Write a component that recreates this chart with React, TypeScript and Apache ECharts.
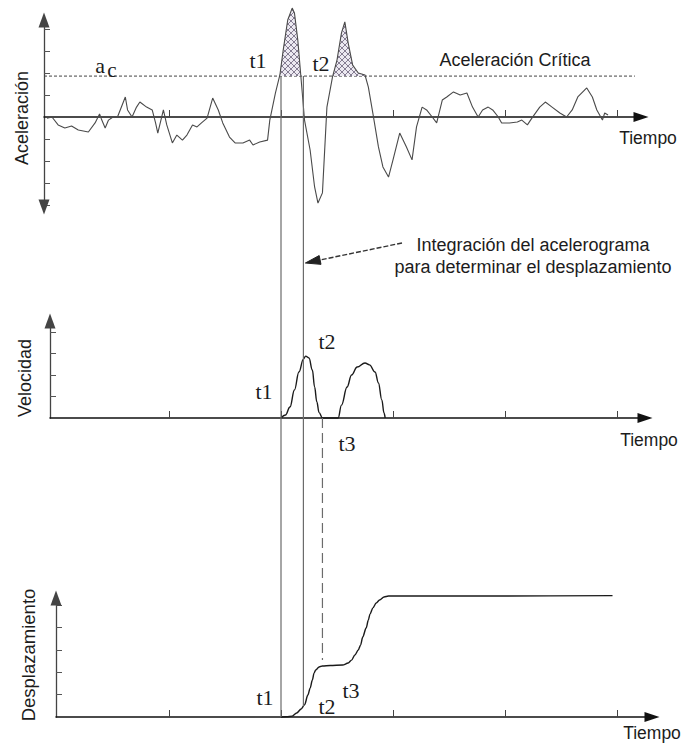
import React, { useEffect, useRef } from "react";
import * as echarts from "echarts";

// ---------- data (time in arbitrary units, values in tick units) ----------
const accelerogram: [number, number][] = [
  [-0.9, -0.05], [-0.45, 0], [0.1, -0.36], [0.7, -0.5], [1.3, -0.41], [1.9, -0.59], [2.8, -0.68],
  [3.4, -0.27], [3.8, 0.14], [4.0, -0.14], [4.3, -0.5], [4.6, -0.14], [5.0, 0], [5.4, 0],
  [6.1, 0.91], [6.3, 0.32], [6.7, 0], [7.1, 0.45], [7.4, 0.68], [8.0, 0.45], [8.5, 0.32],
  [8.8, -0.27], [9.0, -0.73], [9.5, 0.32], [9.8, -0.36], [10.3, -1.18], [10.7, -0.82],
  [11.2, -1.05], [11.6, -0.82], [12.1, -0.36], [12.5, -0.45], [12.9, -0.27], [13.4, -0.05],
  [13.9, 0.86], [14.4, 0.32], [14.8, -0.27], [15.4, -0.91], [15.9, -1.18], [16.6, -1.18],
  [17.2, -1.05], [17.5, -1.27], [18.1, -1.14], [18.8, -1.05], [19.0, -0.14], [19.5, 1.09],
  [19.9, 1.91], [20.2, 3.05], [20.6, 4.41], [21.0, 4.95], [21.2, 4.73], [21.5, 3.5],
  [21.9, 1.09], [22.1, -0.14], [22.6, -1.5], [23.0, -3.18], [23.3, -3.91], [23.7, -3.45],
  [24.1, 0.45], [24.6, 1.82], [25.0, 2.59], [25.4, 3.82], [25.7, 4.32], [26.0, 3.36],
  [26.4, 2.36], [26.9, 2.0], [27.5, 1.91], [27.8, 1.36], [28.2, 0.18], [28.7, -1.36],
  [29.1, -2.27], [29.6, -2.73], [30.0, -1.95], [30.6, -0.73], [31.2, -1.36], [31.7, -1.95],
  [32.1, -0.45], [32.6, 0.45], [33.0, 0.32], [33.5, 0], [33.9, -0.27], [34.4, 0.77],
  [34.8, 0.91], [35.4, 1.14], [36.0, 1.0], [36.6, 1.09], [37.1, 0.45], [37.6, 0], [38.0, 0.32],
  [38.5, 0.45], [38.9, 0.32], [39.4, 0], [39.7, -0.27], [40.4, -0.27], [41.1, -0.23],
  [41.5, -0.14], [42.0, -0.36], [42.4, -0.05], [43.1, 0.45], [43.6, 0.68], [44.2, 0.45],
  [44.9, 0.18], [45.5, 0], [46.0, 0.32], [46.5, 0.91], [47.3, 1.32], [47.8, 0.91], [48.2, 0.32],
  [48.7, -0.14], [48.9, 0.18], [49.2, 0.09],
];
const criticalAcc = 1.86;
const criticalLineEnd = 51.6;

const velocity: [number, number][] = [
  [20.0, 0], [20.4, 0.14], [20.8, 0.51], [21.2, 1.3], [21.6, 2.14], [22.0, 2.74], [22.2, 2.88],
  [22.5, 2.79], [22.8, 2.23], [23.0, 1.44], [23.2, 0.75], [23.4, 0.25], [23.7, 0],
  [25.1, 0], [25.4, 0.6], [25.9, 1.44], [26.3, 2.0], [26.8, 2.37], [27.5, 2.56], [27.9, 2.47],
  [28.4, 2.14], [28.7, 1.63], [29.0, 0.84], [29.2, 0.23], [29.3, 0],
];

const displacement: [number, number][] = [
  [20.0, 0], [20.5, 0.01], [21.0, 0.04], [21.4, 0.18], [21.8, 0.36], [22.1, 0.54], [22.4, 0.98],
  [22.6, 1.29], [22.8, 1.65], [22.95, 1.96], [23.1, 2.1], [23.4, 2.23], [23.7, 2.28],
  [24.4, 2.3], [25.5, 2.32], [26.0, 2.41], [26.3, 2.54], [26.6, 2.77], [26.9, 2.99],
  [27.1, 3.21], [27.3, 3.57], [27.6, 3.97], [27.8, 4.33], [27.95, 4.6], [28.2, 4.87],
  [28.5, 5.09], [28.8, 5.22], [29.2, 5.36], [29.6, 5.4], [39.6, 5.4], [49.6, 5.42],
];

const t1 = 20.0;
const t2 = 22.0;
const t3 = 23.7;

const xTicks = [10, 20, 30, 40, 50];
const accTicks = [-4, -3, -2, -1, 1, 2, 3, 4];
const velTicks = [1, 2, 3, 4];
const dispTicks = [1, 2, 3, 4, 5];

// ---------- layout ----------
const PX0 = 57; // pixel of time 0
const PXU = 11.2; // pixels per time unit
const xSpan = (left: number, end: number) => ({
  left,
  width: end - left,
  min: (left - PX0) / PXU,
  max: (end - PX0) / PXU,
});
const accX = xSpan(44, 641);
const velX = xSpan(50, 645);
const dispX = xSpan(56, 652);
const accY = { zero: 117, unit: 22, top: 20, bottom: 207 };
const velY = { zero: 418, unit: 21.5, top: 321 };
const dispY = { zero: 717, unit: 22.4, top: 598 };

const SANS = "'Liberation Sans', Arial, Helvetica, sans-serif";
const SERIF = "'Liberation Serif', 'DejaVu Serif', 'Times New Roman', serif";
const INK = "#1c1c1c";

function interp(data: [number, number][], t: number) {
  for (let i = 1; i < data.length; i++) {
    const [ta, va] = data[i - 1];
    const [tb, vb] = data[i];
    if (t >= ta && t <= tb) return va + ((t - ta) / (tb - ta)) * (vb - va);
  }
  return t < data[0][0] ? data[0][1] : data[data.length - 1][1];
}

function exceedances(data: [number, number][], level: number) {
  const segs: [number, number][][] = [];
  let cur: [number, number][] | null = null;
  for (let i = 0; i < data.length; i++) {
    const [t, a] = data[i];
    if (a >= level) {
      if (!cur) {
        cur = [];
        if (i > 0) {
          const [t0, a0] = data[i - 1];
          cur.push([t0 + ((level - a0) / (a - a0)) * (t - t0), level]);
        }
      }
      cur.push([t, a]);
    } else if (cur) {
      const [t0, a0] = data[i - 1];
      cur.push([t0 + ((a0 - level) / (a0 - a)) * (t - t0), level]);
      segs.push(cur);
      cur = null;
    }
  }
  if (cur) segs.push(cur);
  return segs;
}

function hatchPattern() {
  const n = 6;
  const c = document.createElement("canvas");
  c.width = n;
  c.height = n;
  const g = c.getContext("2d")!;
  g.fillStyle = "#ece9f1";
  g.fillRect(0, 0, n, n);
  g.fillStyle = "#857d92";
  for (let i = 0; i < n; i++) {
    g.fillRect(i, i, 1, 1);
    g.fillRect(n - 1 - i, i, 1, 1);
  }
  return c;
}

export default function App() {
  const ref = useRef<HTMLDivElement>(null);

  useEffect(() => {
    const el = ref.current;
    if (!el) return;
    const chart = echarts.init(el, null, { renderer: "svg" });

    const xAxis = [accX, velX, dispX].map((s, i) => ({
      type: "value",
      gridIndex: i,
      min: s.min,
      max: s.max,
      axisLine: {
        show: true,
        onZero: true,
        symbol: ["none", "triangle"],
        symbolSize: [10, 15],
        lineStyle: { color: "#111", width: 1.5 },
      },
      axisTick: {
        show: true,
        inside: true,
        length: 7,
        customValues: xTicks,
        lineStyle: { color: "#444", width: 1 },
      },
      axisLabel: { show: false },
      splitLine: { show: false },
    }));

    const yAxisBase = (gridIndex: number, min: number, max: number, ticks: number[], both: boolean) => ({
      type: "value",
      gridIndex,
      min,
      max,
      axisLine: {
        show: true,
        onZero: false,
        symbol: both ? ["triangle", "triangle"] : ["none", "triangle"],
        symbolSize: [11, 15],
        lineStyle: { color: "#444", width: 1.3 },
      },
      axisTick: {
        show: true,
        inside: true,
        length: 6,
        customValues: ticks,
        lineStyle: { color: "#555", width: 1 },
      },
      axisLabel: { show: false },
      splitLine: { show: false },
    });

    const yAxis = [
      yAxisBase(
        0,
        -(accY.bottom - accY.zero) / accY.unit,
        (accY.zero - accY.top) / accY.unit,
        accTicks,
        true
      ),
      yAxisBase(1, 0, (velY.zero - velY.top) / velY.unit, velTicks, false),
      yAxisBase(2, 0, (dispY.zero - dispY.top) / dispY.unit, dispTicks, false),
    ];

    const grid = [
      { left: accX.left, width: accX.width, top: accY.top, height: accY.bottom - accY.top },
      { left: velX.left, width: velX.width, top: velY.top, height: velY.zero - velY.top },
      { left: dispX.left, width: dispX.width, top: dispY.top, height: dispY.zero - dispY.top },
    ];

    let pattern: any = "#d6d0de";
    try {
      pattern = { image: hatchPattern(), repeat: "repeat" };
    } catch (e) {
      pattern = "#d6d0de";
    }

    const shaded = exceedances(accelerogram, criticalAcc).map((seg) => ({
      type: "line",
      xAxisIndex: 0,
      yAxisIndex: 0,
      data: seg,
      showSymbol: false,
      silent: true,
      clip: false,
      z: 2,
      lineStyle: { width: 0, opacity: 0 },
      areaStyle: { color: pattern, opacity: 1, origin: criticalAcc },
    }));

    const option: any = {
      animation: false,
      backgroundColor: "#fff",
      grid,
      xAxis,
      yAxis,
      series: [
        {
          type: "line",
          xAxisIndex: 0,
          yAxisIndex: 0,
          data: [
            [accX.min, criticalAcc],
            [criticalLineEnd, criticalAcc],
          ],
          showSymbol: false,
          silent: true,
          z: 1,
          lineStyle: { color: "#444", width: 1, type: [3, 2] },
        },
        ...shaded,
        {
          type: "line",
          xAxisIndex: 0,
          yAxisIndex: 0,
          data: accelerogram,
          showSymbol: false,
          silent: true,
          clip: false,
          z: 3,
          lineStyle: { color: "#4a4a4a", width: 1.1 },
        },
        {
          type: "line",
          xAxisIndex: 1,
          yAxisIndex: 1,
          data: velocity,
          showSymbol: false,
          silent: true,
          smooth: 0.4,
          smoothMonotone: "x",
          clip: false,
          z: 3,
          lineStyle: { color: "#1a1a1a", width: 1.4 },
        },
        {
          type: "line",
          xAxisIndex: 2,
          yAxisIndex: 2,
          data: displacement,
          showSymbol: false,
          silent: true,
          smooth: 0.3,
          smoothMonotone: "x",
          clip: false,
          z: 3,
          lineStyle: { color: "#1a1a1a", width: 1.4 },
        },
      ],
    };

    chart.setOption(option);

    const X = (t: number) => chart.convertToPixel({ xAxisIndex: 0 } as any, t) as unknown as number;
    const YA = (v: number) => chart.convertToPixel({ yAxisIndex: 0 } as any, v) as unknown as number;
    const YV = (v: number) => chart.convertToPixel({ yAxisIndex: 1 } as any, v) as unknown as number;
    const YD = (v: number) => chart.convertToPixel({ yAxisIndex: 2 } as any, v) as unknown as number;

    const vline = (t: number, ya: number, yb: number, dash?: number[]) => ({
      type: "line",
      silent: true,
      z: 5,
      shape: { x1: X(t), y1: ya, x2: X(t), y2: yb },
      style: { stroke: "#6b6b6b", lineWidth: 1.2, lineDash: dash || null },
    });

    const text = (
      str: string,
      x: number,
      y: number,
      size: number,
      family: string,
      rotation = 0
    ) => ({
      type: "text",
      x,
      y,
      rotation,
      silent: true,
      z: 10,
      style: {
        text: str,
        fontSize: size,
        fontFamily: family,
        fill: INK,
        align: "center",
        verticalAlign: "middle",
        textAlign: "center",
        textVerticalAlign: "middle",
      },
    });

    // annotation arrow
    const tip = [X(t2) + 2, 263];
    const tail = [402, 243];
    const dx = tail[0] - tip[0];
    const dy = tail[1] - tip[1];
    const len = Math.hypot(dx, dy);
    const ux = dx / len;
    const uy = dy / len;
    const headL = 15;
    const headW = 4.5;
    const bx = tip[0] + ux * headL;
    const by = tip[1] + uy * headL;
    const head = [
      [tip[0], tip[1]],
      [bx - uy * headW, by + ux * headW],
      [bx + uy * headW, by - ux * headW],
    ];

    chart.setOption({
      graphic: [
        vline(t1, YA(criticalAcc), YD(0)),
        vline(t2, YA(criticalAcc), YD(interp(displacement, t2))),
        vline(t3, YV(0), YD(interp(displacement, t3)) - 6, [10, 5]),
        {
          type: "line",
          silent: true,
          z: 6,
          shape: { x1: tail[0], y1: tail[1], x2: bx, y2: by },
          style: { stroke: "#333", lineWidth: 1.4, lineDash: [5, 2] },
        },
        {
          type: "polygon",
          silent: true,
          z: 6,
          shape: { points: head },
          style: { fill: "#222", stroke: "#222", lineWidth: 1 },
        },
        text("Aceleración", 22, 118, 18, SANS, Math.PI / 2),
        text("Velocidad", 25, 378, 18, SANS, Math.PI / 2),
        text("Desplazamiento", 28, 655, 18.5, SANS, Math.PI / 2),
        text("Tiempo", 648, 138, 17.5, SANS),
        text("Tiempo", 649, 440, 17.5, SANS),
        text("Tiempo", 652, 733, 17.5, SANS),
        text("Aceleración Crítica", 515, 60, 18, SANS),
        text("Integración del acelerograma", 533, 245, 18, SANS),
        text("para determinar el desplazamiento", 533, 267, 18, SANS),
        text("a", 100, 65, 22, SERIF),
        text("c", 112, 70, 21, SERIF),
        text("t1", 258, 60, 22, SERIF),
        text("t2", 321, 63, 22, SERIF),
        text("t1", 264, 391, 22, SERIF),
        text("t2", 327, 341, 22, SERIF),
        text("t3", 347, 443, 22, SERIF),
        text("t1", 265, 697, 22, SERIF),
        text("t2", 327, 706, 22, SERIF),
        text("t3", 351, 690, 22, SERIF),
      ],
    });

    return () => {
      chart.dispose();
    };
  }, []);

  return (
    <div
      ref={ref}
      style={{ position: "absolute", left: 0, top: 0, width: 684, height: 747, background: "#fff" }}
    />
  );
}
